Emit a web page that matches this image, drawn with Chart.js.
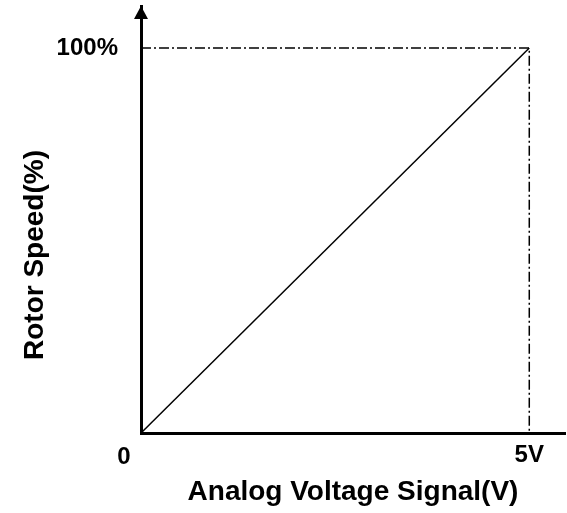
<!DOCTYPE html>
<html lang="en">
<head>
  <meta charset="UTF-8">
  <title>Rotor Speed vs Analog Voltage</title>
  <script src="https://cdn.jsdelivr.net/npm/chart.js"></script>
  <style>
    body {
      margin: 0;
      background: #fff;
    }
    .chart-box {
      width: 567px;
      height: 513px;
    }
  </style>
</head>
<body>
  <div class="chart-box">
    <canvas id="speedChart" width="567" height="513"></canvas>
  </div>

  <script>
    // Chart data
    const voltage = [0, 5];
    const speed = [0, 100];
    const guideX = [0, 5, 5];
    const guideY = [100, 100, 0];
    const xTickValues = [0, 5];
    const xTickLabels = ["0", "5V"];
    const yTickValues = [100];
    const yTickLabels = ["100%"];
    const xTitle = "Analog Voltage Signal(V)";
    const yTitle = "Rotor Speed(%)";

    const FONT = "'Liberation Sans', Arial, sans-serif";
    Chart.defaults.font.family = FONT;
    Chart.defaults.color = "#000";

    const toPoints = (xs, ys) => xs.map((x, i) => ({ x: x, y: ys[i] }));

    // Axis arrow, y title and the "0" label at the origin
    const extras = {
      id: "extras",
      afterDraw(chart) {
        const ctx = chart.ctx;
        const area = chart.chartArea;
        const xs = chart.scales.x;
        const ys = chart.scales.y;
        const ox = xs.getPixelForValue(0);
        const oy = ys.getPixelForValue(0);

        ctx.save();
        ctx.fillStyle = "#000";
        ctx.beginPath();
        ctx.moveTo(ox, area.top);
        ctx.lineTo(ox - 7, area.top + 13);
        ctx.lineTo(ox + 7, area.top + 13);
        ctx.closePath();
        ctx.fill();

        ctx.font = "bold 24px " + FONT;
        ctx.textAlign = "center";
        ctx.textBaseline = "middle";
        ctx.fillText(xTickLabels[0], ox - 17, oy + 24);

        ctx.font = "bold 28px " + FONT;
        ctx.translate(35, 255);
        ctx.rotate(-Math.PI / 2);
        ctx.fillText(yTitle, 0, 0);
        ctx.restore();
      }
    };

    const chart = new Chart(document.getElementById("speedChart"), {
      type: "scatter",
      data: {
        datasets: [
          {
            label: "speed",
            data: toPoints(voltage, speed),
            showLine: true,
            borderColor: "#000",
            borderWidth: 1.5,
            pointRadius: 0
          },
          {
            label: "guide",
            data: toPoints(guideX, guideY),
            showLine: true,
            borderColor: "#000",
            borderWidth: 1.5,
            borderDash: [10, 3, 2, 3],
            pointRadius: 0
          }
        ]
      },
      options: {
        responsive: false,
        animation: false,
        layout: {
          padding: { left: 0, right: 2, top: 6, bottom: 0 }
        },
        plugins: {
          legend: { display: false },
          tooltip: { enabled: false }
        },
        scales: {
          x: {
            type: "linear",
            min: 0,
            max: 5.46,
            afterFit(scale) {
              scale.height = 80;
              scale.paddingLeft = 0;
              scale.paddingRight = 0;
            },
            afterBuildTicks(scale) {
              scale.ticks = xTickValues.slice(1).map(v => ({ value: v }));
            },
            grid: { color: "rgba(0,0,0,0)", drawTicks: false },
            border: { display: true, color: "#000", width: 3 },
            ticks: {
              padding: 8,
              font: { size: 24, weight: "bold" },
              callback: (v) => xTickLabels[xTickValues.indexOf(v)]
            },
            title: {
              display: true,
              text: xTitle,
              font: { size: 28, weight: "bold" },
              padding: { top: 0, bottom: 4 }
            }
          },
          y: {
            type: "linear",
            min: 0,
            max: 110.9,
            afterFit(scale) {
              scale.width = 141;
              scale.paddingTop = 0;
              scale.paddingBottom = 0;
            },
            afterBuildTicks(scale) {
              scale.ticks = yTickValues.map(v => ({ value: v }));
            },
            grid: { color: "rgba(0,0,0,0)", drawTicks: false },
            border: { display: true, color: "#000", width: 3 },
            ticks: {
              padding: 23,
              font: { size: 24, weight: "bold" },
              callback: (v) => yTickLabels[yTickValues.indexOf(v)]
            }
          }
        }
      },
      plugins: [extras]
    });
  </script>
</body>
</html>
